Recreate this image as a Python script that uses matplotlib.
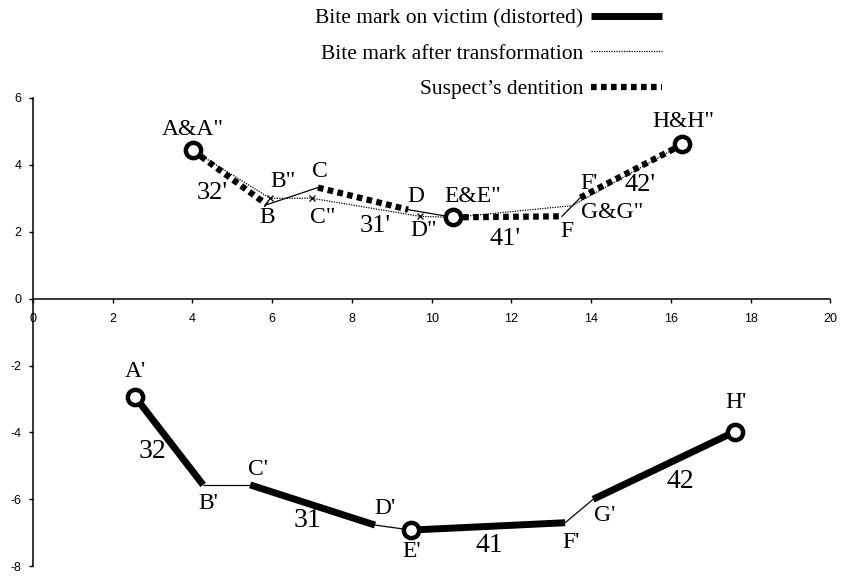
import numpy as np
import matplotlib.pyplot as plt
from matplotlib.lines import Line2D

plt.rcParams['axes.unicode_minus'] = False

# Bite mark on victim (distorted) - lower half
victim_x = [2.56, 4.27, 5.45, 8.58, 9.49, 13.35, 14.05, 17.6]
victim_y = [-2.93, -5.57, -5.57, -6.77, -6.92, -6.70, -6.00, -3.98]

# Bite mark after transformation
trans_x = [4.01, 5.95, 7.00, 9.71, 10.54, 13.53, 16.29]
trans_y = [4.43, 3.00, 3.00, 2.46, 2.43, 2.78, 4.61]

# Suspect's dentition
susp_x = [4.01, 5.87, 7.15, 9.41, 10.54, 13.27, 13.73, 16.29]
susp_y = [4.43, 2.81, 3.32, 2.66, 2.43, 2.46, 3.02, 4.61]

# point labels (text, x, y)
top_lbl = [('A&A"', 4.01, 5.06), ('B"', 6.27, 3.50), ('B', 5.87, 2.43),
           ('C', 7.20, 3.80), ('C"', 7.28, 2.43), ('D', 9.61, 3.05),
           ('D"', 9.81, 2.04), ('E&E"', 11.04, 3.05), ('F', 13.40, 2.00),
           ("F'", 13.95, 3.44), ('G&G"', 14.53, 2.57), ('H&H"', 16.31, 5.30)]
top_num = [("32'", 4.49, 3.17), ("31'", 8.58, 2.16), ("41'", 11.84, 1.77), ("42'", 15.23, 3.41)]
bot_lbl = [("A'", 2.56, -2.19), ("B'", 4.39, -6.14), ("C'", 5.65, -5.12), ("D'", 8.83, -6.26),
           ("E'", 9.51, -7.57), ("F'", 13.50, -7.28), ("G'", 14.35, -6.47), ("H'", 17.64, -3.11)]
bot_num = [("32", 2.99, -4.58), ("31", 6.88, -6.62), ("41", 11.44, -7.37), ("42", 16.24, -5.48)]

serif = 'Liberation Serif'

fig = plt.figure(figsize=(8.43, 5.76), dpi=100)
ax = fig.add_axes([0.039, 0.017, 0.946, 0.813])

# victim: thick pieces with thin joins
for i in range(len(victim_x) - 1):
    lw = 5 if i % 2 == 0 else 0.9
    ax.plot(victim_x[i:i + 2], victim_y[i:i + 2], color='black', lw=lw, solid_capstyle='butt')
ax.plot([victim_x[i] for i in (0, 4, 7)], [victim_y[i] for i in (0, 4, 7)], 'o',
        ms=11, mfc='white', mec='black', mew=3.2, zorder=5)

# transformed
ax.plot(trans_x, trans_y, color='black', lw=0.9, ls=(0, (1, 1)))
ax.plot(trans_x[1:4], trans_y[1:4], 'x', color='black', ms=5, mew=0.9)

# suspect: dotted thick pieces, thin joins
sq = (0, (0.9, 0.7))
for i in range(len(susp_x) - 1):
    if i in (0, 2, 4, 6):
        ax.plot(susp_x[i:i + 2], susp_y[i:i + 2], color='black', lw=4.5, ls=sq, dash_capstyle='butt')
    else:
        ax.plot(susp_x[i:i + 2], susp_y[i:i + 2], color='black', lw=0.9)
ax.plot([susp_x[i] for i in (0, 4, 7)], [susp_y[i] for i in (0, 4, 7)], 'o',
        ms=11, mfc='white', mec='black', mew=3.2, zorder=5)

for t, x, y in top_lbl + bot_lbl:
    ax.text(x, y, t, fontsize=17, family=serif, ha='center', va='center')
for t, x, y in top_num:
    ax.text(x, y, t, fontsize=19, family=serif, ha='center', va='center')
for t, x, y in bot_num:
    ax.text(x, y, t, fontsize=20, family=serif, ha='center', va='center')

ax.set_xlim(0, 20)
ax.set_ylim(-8, 6)
ax.set_xticks(np.arange(0, 21, 2))
ax.set_yticks(np.arange(-8, 7, 2))
ax.spines['bottom'].set_position(('data', 0))
ax.spines['right'].set_visible(False)
ax.spines['top'].set_visible(False)
for s in ('left', 'bottom'):
    ax.spines[s].set_linewidth(1.1)
ax.tick_params(axis='x', length=3, width=1, pad=7, labelsize=9)
ax.tick_params(axis='y', length=3, width=1, pad=5, labelsize=9)
for lab in ax.get_xticklabels() + ax.get_yticklabels():
    lab.set_family('Liberation Sans')

handles = [Line2D([], [], color='black', lw=5, solid_capstyle='butt'),
           Line2D([], [], color='black', lw=0.9, ls=(0, (1, 1))),
           Line2D([], [], color='black', lw=4.5, ls=sq, dash_capstyle='butt')]
labels = ['Bite mark on victim (distorted)', 'Bite mark after transformation', "Suspect\u2019s dentition"]
fig.legend(handles, labels, loc='upper right', bbox_to_anchor=(662 / 843, 1 - 8 / 576),
           markerfirst=False, frameon=False, prop={'family': serif, 'size': 15.5},
           handlelength=3.3, handletextpad=0.35, labelspacing=0.72, borderpad=0, borderaxespad=0)

fig.savefig('out.png', dpi=100)
